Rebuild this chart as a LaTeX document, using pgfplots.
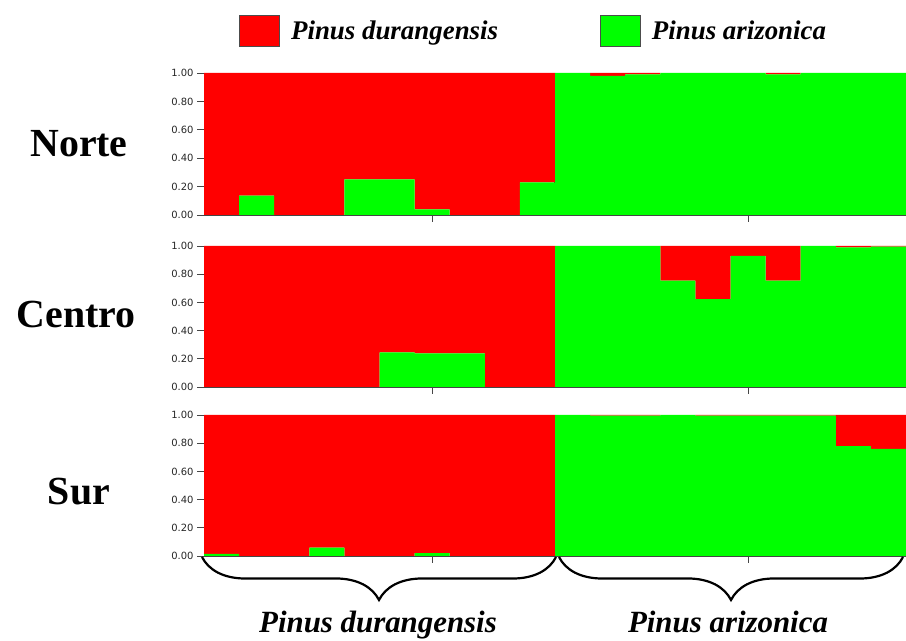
\documentclass[border=0pt]{standalone}
\usepackage{pgfplots}
\pgfplotsset{compat=1.18}
\usepackage{pgfplotstable}
\usepackage{fontspec}
\setmainfont{Liberation Serif}
\newfontfamily\tickfont{DejaVu Sans}
\usetikzlibrary{decorations.pathreplacing}
\definecolor{pred}{RGB}{255,0,0}
\definecolor{pgreen}{RGB}{0,255,0}
\definecolor{axgray}{RGB}{70,70,70}

% x = individual position, g = Pinus arizonica share, r = Pinus durangensis share
\pgfplotstableread{
x g r
0.5 0 1
1.5 0.136 0.864
2.5 0 1
3.5 0 1
4.5 0.25 0.75
5.5 0.25 0.75
6.5 0.04 0.96
7.5 0 1
8.5 0 1
9.5 0.23 0.77
10.5 1 0
11.5 0.98 0.02
12.5 0.99 0.01
13.5 1 0
14.5 1 0
15.5 1 0
16.5 0.99 0.01
17.5 1 0
18.5 1 0
19.5 1 0
}\norte

\pgfplotstableread{
x g r
0.5 0 1
1.5 0 1
2.5 0 1
3.5 0 1
4.5 0 1
5.5 0.246 0.754
6.5 0.239 0.761
7.5 0.239 0.761
8.5 0 1
9.5 0 1
10.5 1 0
11.5 1 0
12.5 1 0
13.5 0.754 0.246
14.5 0.624 0.376
15.5 0.93 0.07
16.5 0.754 0.246
17.5 1 0
18.5 0.99 0.01
19.5 0.995 0.005
}\centro

\pgfplotstableread{
x g r
0.5 0.015 0.985
1.5 0 1
2.5 0 1
3.5 0.06 0.94
4.5 0 1
5.5 0 1
6.5 0.02 0.98
7.5 0 1
8.5 0 1
9.5 0 1
10.5 1 0
11.5 0.995 0.005
12.5 0.995 0.005
13.5 1 0
14.5 0.995 0.005
15.5 0.995 0.005
16.5 0.995 0.005
17.5 0.995 0.005
18.5 0.78 0.22
19.5 0.76 0.24
}\sur

\pgfplotsset{
  strpanel/.style={
    scale only axis, width=702bp,
    xmin=0, xmax=20, ymin=0, ymax=1,
    ybar stacked, bar width=1,
    axis lines=left,
    axis line style={-, draw=axgray, line width=0.9bp},
    xtick={6.5,15.5}, xticklabels={},
    ytick={0,0.2,0.4,0.6,0.8,1},
    tick align=outside, major tick length=7bp,
    tick style={draw=axgray, line width=0.9bp},
    yticklabel style={/pgf/number format/.cd, fixed, fixed zerofill, precision=2, assume math mode=true},
    ticklabel style={font=\tickfont\fontsize{10}{12}\selectfont, text=black!85},
    anchor=origin, clip=false,
  },
  mybox/.style={legend image code/.code={\draw[##1] (0bp,-15.5bp) rectangle (40bp,15.5bp);}},
}

\begin{document}
\begin{tikzpicture}[x=1bp,y=1bp]
\useasboundingbox (0bp,0bp) rectangle (906bp,641bp);

% Norte
\begin{axis}[strpanel, height=142bp, at={(204bp,426bp)},
  legend columns=2, legend cell align=left,
  legend style={at={(0.05,1.296)}, anchor=west, draw=none, fill=none, inner sep=0pt,
    font=\fontsize{27}{30}\selectfont\bfseries\itshape,
    /tikz/every odd column/.append style={column sep=9bp},
    /tikz/every even column/.append style={column sep=100bp}}]
\addlegendimage{mybox, fill=pred, draw=black!70, line width=0.8bp}
\addlegendentry{Pinus durangensis}
\addlegendimage{mybox, fill=pgreen, draw=black!70, line width=0.8bp}
\addlegendentry{Pinus arizonica}
\addplot[fill=pgreen, draw=none, forget plot] table[x=x, y=g] {\norte};
\addplot[fill=pred, draw=none, forget plot] table[x=x, y=r] {\norte};
\draw[black, line width=1.6bp] (axis cs:10,0) -- (axis cs:10,1);
\end{axis}

% Centro
\begin{axis}[strpanel, height=141bp, at={(204bp,254bp)}]
\addplot[fill=pgreen, draw=none] table[x=x, y=g] {\centro};
\addplot[fill=pred, draw=none] table[x=x, y=r] {\centro};
\draw[black, line width=1.6bp] (axis cs:10,0) -- (axis cs:10,1);
\end{axis}

% Sur
\begin{axis}[strpanel, height=141bp, at={(204bp,85bp)}]
\addplot[fill=pgreen, draw=none] table[x=x, y=g] {\sur};
\addplot[fill=pred, draw=none] table[x=x, y=r] {\sur};
\draw[black, line width=1.6bp] (axis cs:10,0) -- (axis cs:10,1);
\end{axis}

% Region labels
\node[anchor=base, font=\fontsize{40}{44}\selectfont\bfseries] at (79bp,484bp) {Norte};
\node[anchor=base, font=\fontsize{40}{44}\selectfont\bfseries] at (76bp,313bp) {Centro};
\node[anchor=base, font=\fontsize{40}{44}\selectfont\bfseries] at (79bp,136bp) {Sur};

% Braces
\draw[decorate, decoration={brace, amplitude=43bp}, line width=2.2bp] (556bp,84bp) -- (202bp,84bp);
\draw[decorate, decoration={brace, amplitude=43bp}, line width=2.2bp] (903bp,84bp) -- (559bp,84bp);

% Group labels
\node[anchor=base, font=\fontsize{31}{34}\selectfont\bfseries\itshape] at (378bp,9bp) {Pinus durangensis};
\node[anchor=base, font=\fontsize{31}{34}\selectfont\bfseries\itshape] at (728bp,9bp) {Pinus arizonica};
\end{tikzpicture}
\end{document}
